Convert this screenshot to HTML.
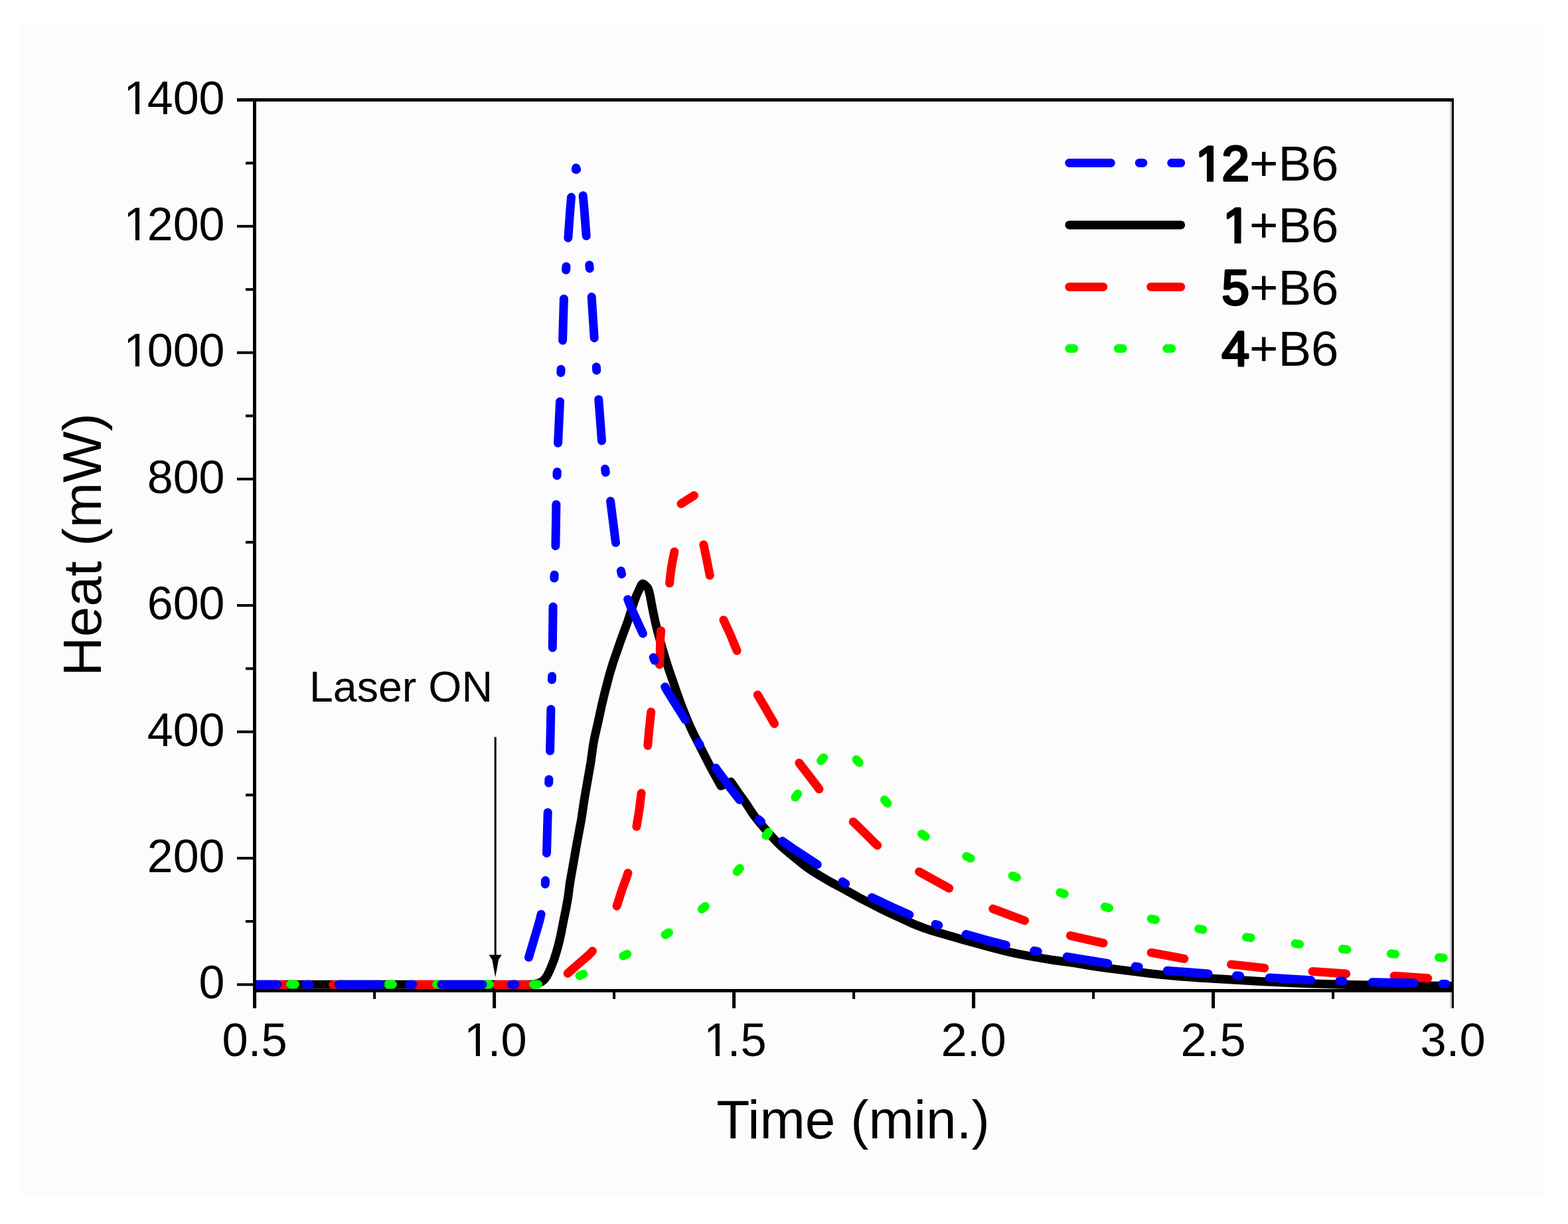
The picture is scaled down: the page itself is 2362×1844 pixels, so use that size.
<!DOCTYPE html>
<html><head><meta charset="utf-8"><title>Heat vs Time</title>
<style>
html,body{margin:0;padding:0;background:#fff;}
body{width:2362px;height:1844px;overflow:hidden;}
svg{display:block;}
</style></head>
<body>
<svg width="2362" height="1844" viewBox="0 0 2362 1844">
<rect x="0" y="0" width="2362" height="1844" fill="#ffffff"/>
<rect x="31" y="35" width="2297" height="1768" fill="#fcfcfc"/>
<rect x="2184.4" y="153" width="2.7" height="1366" fill="#c4c4c4"/>
<defs><clipPath id="pc"><rect x="383" y="100" width="1804.5" height="1393"/></clipPath></defs>
<g clip-path="url(#pc)">
<path d="M383.6,1483.2 798.0,1483.2 804.9,1482.7 811.1,1481.2 813.0,1480.5 815.9,1478.9 818.5,1477.0 820.2,1475.4 821.6,1473.7 823.4,1471.2 826.9,1464.6 829.0,1459.9 833.9,1447.7 836.8,1438.8 840.4,1426.5 842.9,1416.6 845.3,1405.7 848.9,1386.9 852.6,1369.2 855.1,1355.4 856.2,1348.5 857.4,1338.1 858.8,1328.5 869.0,1270.6 875.7,1234.6 880.2,1204.3 889.9,1148.6 893.1,1125.4 894.4,1117.3 896.2,1108.5 900.7,1089.0 906.1,1063.8 911.1,1043.0 918.2,1015.9 923.8,997.3 934.8,965.7 945.6,936.2 955.2,906.4 959.0,896.6 965.1,883.3 966.1,881.5 967.0,880.2 967.5,879.8 968.5,879.4 969.5,879.7 970.5,880.4 975.3,885.1 976.4,887.1 977.6,890.5 979.1,896.8 983.1,918.0 987.5,938.8 990.3,950.3 994.7,966.4 1001.8,990.5 1007.3,1007.9 1020.5,1046.2 1027.8,1066.0 1036.5,1087.4 1040.9,1097.4 1045.3,1106.6 1070.0,1155.0 1077.3,1168.5 1086.0,1184.0 1101.0,1178.0 1112.0,1194.0 1123.0,1209.0 1132.2,1223.3 1136.5,1229.5 1143.6,1238.4 1159.1,1256.4 1170.0,1268.3 1177.5,1275.5 1189.8,1286.0 1211.2,1303.5 1217.7,1308.2 1224.5,1312.8 1236.6,1320.2 1247.3,1326.5 1255.3,1331.0 1271.4,1339.5 1293.6,1351.9 1324.8,1368.1 1339.3,1375.1 1369.2,1388.9 1382.1,1394.4 1392.5,1398.4 1405.9,1402.7 1453.4,1416.6 1491.7,1427.0 1508.9,1431.5 1523.0,1434.8 1536.2,1437.6 1550.9,1440.4 1585.7,1446.3 1619.1,1450.9 1646.9,1455.5 1664.6,1458.1 1732.5,1466.6 1753.4,1468.9 1769.8,1470.4 1806.0,1473.1 1903.6,1478.7 1962.8,1481.4 2023.0,1483.3 2098.4,1484.6 2188.5,1485.5" fill="none" stroke="#000000" stroke-width="13" stroke-linecap="round" stroke-linejoin="round"/>
<path d="M383.6,1483.5 429.4,1483.5M501.6,1483.5 552.4,1483.5M624.6,1483.5 675.4,1483.5M747.6,1483.5 796.1,1483.5M855.2,1466.4 874.0,1449.8 885.2,1440.2 888.9,1436.7 892.5,1432.8M929.1,1365.0 937.5,1339.0 943.6,1322.7 945.9,1315.3M958.9,1245.2 963.0,1220.4 966.1,1195.0M975.8,1123.2 977.9,1098.8 980.7,1072.6M993.3,1001.3 994.0,991.1 995.0,958.4 995.7,950.3M1008.6,878.6 1010.2,863.5 1011.3,855.5 1013.7,842.0 1015.9,831.2M1059.9,820.6 1064.7,843.5 1069.3,866.9M1090.0,934.0 1100.3,956.4 1110.1,980.3M1141.2,1046.8 1154.3,1069.0 1166.5,1090.3M1203.9,1149.4 1219.0,1168.9 1234.0,1188.7M1285.2,1237.9 1304.4,1256.7 1315.7,1268.1 1321.7,1273.6M1384.6,1313.3 1429.7,1338.2M1495.8,1369.1 1543.5,1387.0M1612.4,1409.6 1662.1,1420.8M1734.2,1435.2 1783.9,1444.4M1854.6,1452.9 1904.8,1458.4M1977.1,1463.5 2027.7,1467.0M2100.1,1470.3 2150.8,1473.8M1026,759 L1045.5,746.5" fill="none" stroke="#ff0000" stroke-width="13" stroke-linecap="round" stroke-linejoin="round"/>
<path d="M437.6,1483.0 444.4,1483.0M511.1,1483.0 517.9,1483.0M584.6,1483.0 591.4,1483.0M657.6,1483.0 664.4,1483.0M730.6,1483.0 737.4,1483.0M803.6,1483.0 810.4,1483.0M873.1,1469.9 879.0,1467.3M938.9,1440.1 944.8,1437.3M1002.0,1408.2 1007.4,1404.9M1057.3,1369.6 1062.4,1365.5M1110.1,1313.3 1114.4,1308.1M1153.7,1258.9 1157.7,1253.8M1198.0,1201.2 1201.8,1196.0M1236.5,1146.1 1240.7,1141.4M1290.0,1144.2 1294.2,1149.1M1332.4,1205.0 1337.0,1210.3M1388.5,1256.3 1394.3,1260.3M1455.8,1290.2 1462.0,1293.0M1525.2,1319.4 1531.5,1321.8M1596.9,1344.6 1603.3,1346.7M1664.3,1366.1 1670.5,1367.9M1734.2,1384.2 1740.6,1385.6M1805.6,1399.4 1812.0,1400.6M1877.5,1411.9 1884.2,1412.9M1951.1,1421.6 1957.6,1422.4M2022.4,1429.8 2029.1,1430.5M2095.3,1436.8 2101.8,1437.4M2167.6,1442.4 2174.3,1442.9" fill="none" stroke="#00ff00" stroke-width="13" stroke-linecap="round" stroke-linejoin="round"/>
<path d="M383.6,1483.2 417.6,1483.2M461.1,1483.2 466.4,1483.2M510.1,1483.2 572.9,1483.2M616.4,1483.2 621.6,1483.2M664.6,1483.2 726.9,1483.2M770.4,1483.2 775.8,1483.0M796.5,1442.3 810.5,1395.2 813.2,1385.4 815.1,1377.4M821.3,1331.9 821.6,1326.6M823.5,1285.4 825.2,1224.0M826.7,1179.5 826.9,1174.2M828.6,1131.3 829.9,1068.5M831.4,1024.1 831.6,1018.8M832.3,975.8 833.1,914.1M834.9,871.1 835.1,865.9M836.9,822.4 837.9,759.9M839.0,716.4 839.2,710.9M840.6,667.5 843.5,605.0M844.9,561.6 845.1,556.3M847.6,512.9 849.4,450.2M852.6,406.8 853.0,401.5M855.9,358.4 858.6,319.8 860.5,297.1M867.3,255.4 867.8,253.0 868.6,255.4M878.2,294.6 880.0,313.8 883.2,355.4M887.8,399.2 888.2,404.4M891.2,447.3 895.2,509.2M898.3,552.8 898.7,558.1M901.8,601.7 906.5,664.0M911.5,706.5 912.3,711.7M919.6,755.0 927.5,817.5M935.4,860.0 936.5,864.9M945.7,903.0 948.6,910.5 952.6,919.9 968.4,954.5M984.2,990.4 986.1,995.0M1001.7,1034.8 1005.9,1042.2 1011.4,1051.2 1032.7,1084.7M1051.9,1118.3 1054.4,1122.4M1078.2,1157.0 1099.5,1186.2 1114.1,1205.0M1143.1,1234.6 1146.6,1238.1M1178.3,1267.1 1195.3,1278.8 1231.3,1302.5M1269.0,1328.3 1273.7,1331.2M1313.3,1352.1 1342.4,1365.8 1369.9,1378.1M1409.1,1392.4 1413.8,1394.0M1455.1,1407.6 1486.8,1416.4 1515.4,1423.9M1557.8,1432.3 1563.2,1433.3M1607.3,1441.3 1644.3,1447.5 1668.7,1451.4M1710.2,1456.0 1715.2,1456.6M1758.3,1462.2 1781.3,1464.1 1820.1,1466.9M1862.5,1469.8 1867.7,1470.2M1912.2,1473.0 1974.8,1476.7M2017.8,1477.7 2023.0,1477.9M2067.2,1479.8 2130.2,1480.9M2172.9,1482.3 2178.2,1482.5" fill="none" stroke="#0000ff" stroke-width="13" stroke-linecap="round" stroke-linejoin="round"/>
</g>
<rect x="381" y="148" width="5" height="1347" fill="#000"/>
<rect x="357" y="148" width="1833" height="5" fill="#000"/>
<rect x="381" y="1490" width="1807" height="5" fill="#000"/>
<rect x="2187" y="151" width="3" height="1368" fill="#000"/>
<rect x="381.1" y="1490" width="5" height="29" fill="#000"/>
<rect x="562.1" y="1490" width="4" height="15" fill="#000"/>
<rect x="742.1" y="1490" width="5" height="29" fill="#000"/>
<rect x="923.1" y="1490" width="4" height="15" fill="#000"/>
<rect x="1103.1" y="1490" width="5" height="29" fill="#000"/>
<rect x="1284.1" y="1490" width="4" height="15" fill="#000"/>
<rect x="1464.1" y="1490" width="5" height="29" fill="#000"/>
<rect x="1645.1" y="1490" width="4" height="15" fill="#000"/>
<rect x="1825.1" y="1490" width="5" height="29" fill="#000"/>
<rect x="2006.1" y="1490" width="4" height="15" fill="#000"/>
<rect x="357" y="1481.3" width="26" height="4" fill="#000"/>
<rect x="370" y="1386.1" width="13" height="4" fill="#000"/>
<rect x="357" y="1290.9" width="26" height="4" fill="#000"/>
<rect x="370" y="1195.7" width="13" height="4" fill="#000"/>
<rect x="357" y="1100.5" width="26" height="4" fill="#000"/>
<rect x="370" y="1005.3" width="13" height="4" fill="#000"/>
<rect x="357" y="910.1" width="26" height="4" fill="#000"/>
<rect x="370" y="814.9" width="13" height="4" fill="#000"/>
<rect x="357" y="719.7" width="26" height="4" fill="#000"/>
<rect x="370" y="624.5" width="13" height="4" fill="#000"/>
<rect x="357" y="529.3" width="26" height="4" fill="#000"/>
<rect x="370" y="434.1" width="13" height="4" fill="#000"/>
<rect x="357" y="338.9" width="26" height="4" fill="#000"/>
<rect x="370" y="243.7" width="13" height="4" fill="#000"/>
<text x="334.60" y="1590.8" font-size="70.5" font-family="'Liberation Sans', Arial, Helvetica, sans-serif">0.5</text>
<text x="695.60" y="1590.8" font-size="70.5" dx="3.5 -3.5 0" font-family="'Liberation Sans', Arial, Helvetica, sans-serif">1.0</text>
<text x="1056.60" y="1590.8" font-size="70.5" dx="3.5 -3.5 0" font-family="'Liberation Sans', Arial, Helvetica, sans-serif">1.5</text>
<text x="1417.60" y="1590.8" font-size="70.5" font-family="'Liberation Sans', Arial, Helvetica, sans-serif">2.0</text>
<text x="1778.60" y="1590.8" font-size="70.5" font-family="'Liberation Sans', Arial, Helvetica, sans-serif">2.5</text>
<text x="2139.60" y="1590.8" font-size="70.5" font-family="'Liberation Sans', Arial, Helvetica, sans-serif">3.0</text>
<text x="299.57" y="1504.3" font-size="70" font-family="'Liberation Sans', Arial, Helvetica, sans-serif">0</text>
<text x="221.71" y="1313.9" font-size="70" font-family="'Liberation Sans', Arial, Helvetica, sans-serif">200</text>
<text x="221.71" y="1123.5" font-size="70" font-family="'Liberation Sans', Arial, Helvetica, sans-serif">400</text>
<text x="221.71" y="933.1" font-size="70" font-family="'Liberation Sans', Arial, Helvetica, sans-serif">600</text>
<text x="221.71" y="742.7" font-size="70" font-family="'Liberation Sans', Arial, Helvetica, sans-serif">800</text>
<text x="182.78" y="552.3" font-size="70" dx="3.5 -3.5 0 0" font-family="'Liberation Sans', Arial, Helvetica, sans-serif">1000</text>
<text x="182.78" y="361.9" font-size="70" dx="3.5 -3.5 0 0" font-family="'Liberation Sans', Arial, Helvetica, sans-serif">1200</text>
<text x="182.78" y="171.5" font-size="70" dx="3.5 -3.5 0 0" font-family="'Liberation Sans', Arial, Helvetica, sans-serif">1400</text>
<text x="1285" y="1714.7" font-size="82" text-anchor="middle" font-family="'Liberation Sans', Arial, Helvetica, sans-serif">Time (min.)</text>
<text transform="translate(151.5,820.5) rotate(-90)" x="0" y="0" font-size="82" text-anchor="middle" font-family="'Liberation Sans', Arial, Helvetica, sans-serif">Heat (mW)</text>
<text x="466" y="1056.5" font-size="64.5" font-family="'Liberation Sans', Arial, Helvetica, sans-serif">Laser ON</text>
<rect x="702.97" y="1585.00" width="13.91" height="7.00" fill="#fcfcfc"/>
<rect x="723.01" y="1585.00" width="13.31" height="7.00" fill="#fcfcfc"/>
<rect x="1063.97" y="1585.00" width="13.91" height="7.00" fill="#fcfcfc"/>
<rect x="1084.01" y="1585.00" width="13.31" height="7.00" fill="#fcfcfc"/>
<rect x="190.11" y="546.00" width="13.82" height="8.00" fill="#fcfcfc"/>
<rect x="210.02" y="546.00" width="13.22" height="8.00" fill="#fcfcfc"/>
<rect x="190.11" y="356.00" width="13.82" height="7.00" fill="#fcfcfc"/>
<rect x="210.02" y="356.00" width="13.22" height="7.00" fill="#fcfcfc"/>
<rect x="190.11" y="165.00" width="13.82" height="8.00" fill="#fcfcfc"/>
<rect x="210.02" y="165.00" width="13.22" height="8.00" fill="#fcfcfc"/>
<rect x="744.7" y="1110.4" width="3" height="335" fill="#000"/>
<path d="M736.5,1438.6 L755.8,1438.6 L751,1446 L746.2,1472.5 L741.4,1446 Z" fill="#000"/>
<path d="M1610.8,245.4 L1778.7,245.4" stroke="#0000ff" stroke-width="13" stroke-linecap="round" fill="none" stroke-dasharray="62.5 43 5.5 43"/>
<text x="1799.00" y="271.7" font-size="74.5" dx="2 -2 0 0 0" font-family="'Liberation Sans', Arial, Helvetica, sans-serif"><tspan stroke="#000" stroke-width="3.6" stroke-linejoin="round">12</tspan>+B6</text>
<path d="M1610.8,338.9 L1778.7,338.9" stroke="#000000" stroke-width="13" stroke-linecap="round" fill="none"/>
<text x="1840.44" y="365.2" font-size="74.5" dx="2 -2 0 0" font-family="'Liberation Sans', Arial, Helvetica, sans-serif"><tspan stroke="#000" stroke-width="3.6" stroke-linejoin="round">1</tspan>+B6</text>
<path d="M1610.8,432.2 L1778.7,432.2" stroke="#ff0000" stroke-width="13" stroke-linecap="round" fill="none" stroke-dasharray="51 72"/>
<text x="1840.44" y="458.5" font-size="74.5" font-family="'Liberation Sans', Arial, Helvetica, sans-serif"><tspan stroke="#000" stroke-width="3.6" stroke-linejoin="round">5</tspan>+B6</text>
<path d="M1610.8,525.1 L1778.7,525.1" stroke="#00ff00" stroke-width="13" stroke-linecap="round" fill="none" stroke-dasharray="7 66.5"/>
<text x="1840.44" y="551.4" font-size="74.5" font-family="'Liberation Sans', Arial, Helvetica, sans-serif"><tspan stroke="#000" stroke-width="3.6" stroke-linejoin="round">4</tspan>+B6</text>
<rect x="1803.38" y="263.00" width="14.61" height="12.00" fill="#fcfcfc"/>
<rect x="1828.07" y="263.00" width="13.98" height="12.00" fill="#fcfcfc"/>
<rect x="1844.81" y="357.00" width="14.61" height="11.00" fill="#fcfcfc"/>
<rect x="1869.50" y="357.00" width="13.98" height="11.00" fill="#fcfcfc"/>
</svg>
</body></html>
